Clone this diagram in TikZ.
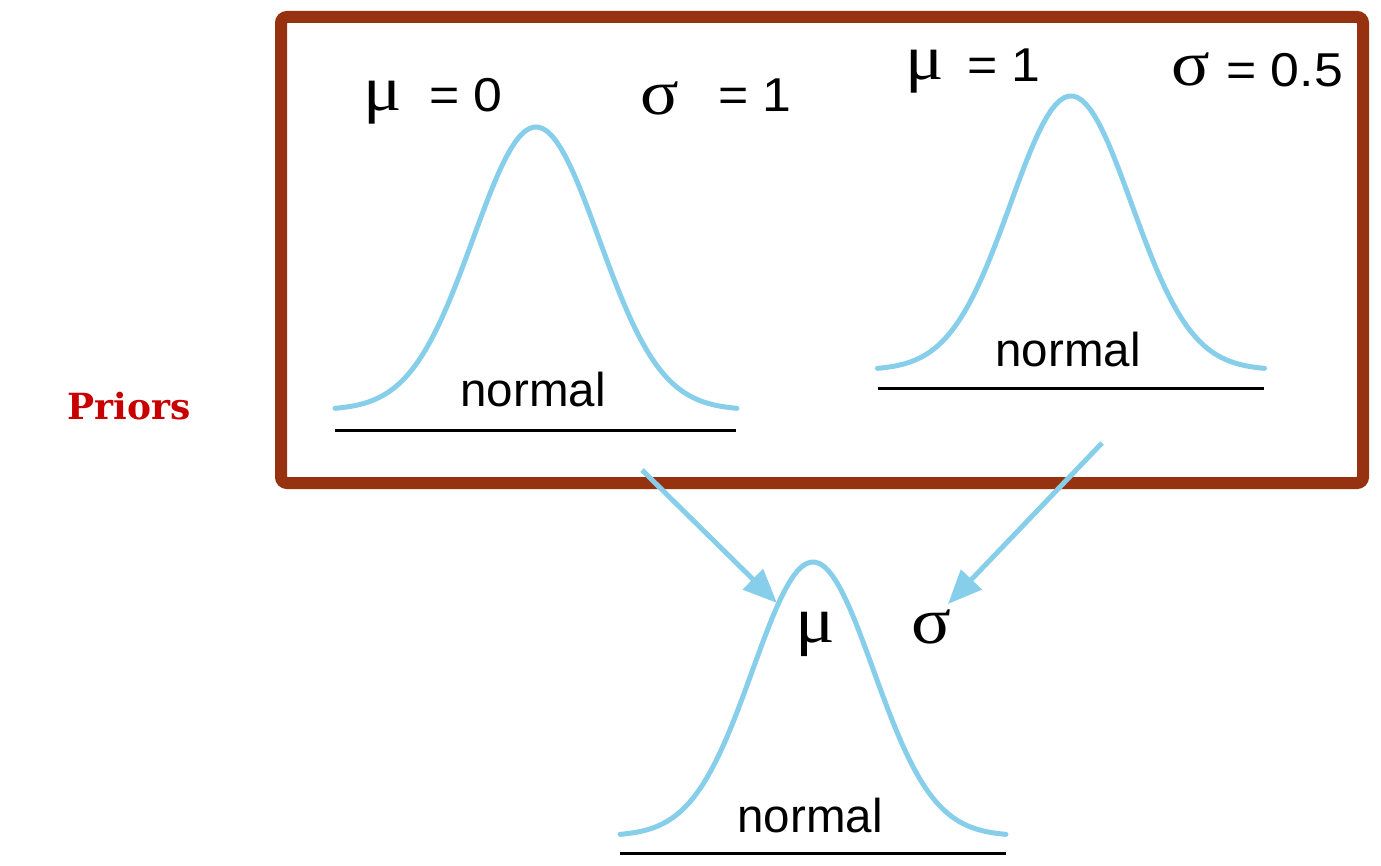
\documentclass[tikz,border=0pt]{standalone}
\usepackage{fontspec}
\setmainfont{Liberation Sans}
\newfontfamily\eqf{Liberation Sans}[FakeStretch=1.09]
\newfontfamily\greekf{Liberation Serif}[FakeStretch=1.12]
\newfontfamily\slabf{DejaVu Serif}
\usetikzlibrary{arrows.meta}
\definecolor{boxc}{RGB}{150,50,15}
\definecolor{curvec}{RGB}{135,206,235}
\definecolor{priorc}{RGB}{200,0,0}
\tikzset{
  px/.style={x=0.5pt,y=-0.5pt},
  frame/.style={draw=boxc,line width=6pt,rounded corners=3pt},
  bell/.style={draw=curvec,line width=2.5pt,line cap=round},
  baseln/.style={draw=black,line width=1.5pt},
  lbl/.style={inner sep=0pt,font=\fontsize{23.75pt}{28pt}\selectfont},
  eqlbl/.style={inner sep=0pt,font=\fontsize{23.75pt}{28pt}\selectfont\eqf},
  grk/.style={inner sep=0pt,font=\fontsize{32pt}{36pt}\selectfont\greekf},
  grkb/.style={inner sep=0pt,font=\fontsize{33pt}{38pt}\selectfont\greekf},
  arr/.style={draw=curvec,line width=2.5pt,-{Triangle[length=17pt,width=14pt]}},
}
\begin{document}
\begin{tikzpicture}[px]
\path[use as bounding box] (0,0) rectangle (1381,866);
% frame
\coordinate (boxnw) at (281,17); \coordinate (boxse) at (1363,483);
\draw[frame] (boxnw) rectangle (boxse);
% curves
\draw[bell] plot[domain=-3.2:3.2,samples=90] ({536+62.8*\x},{410-283*exp(-\x*\x/2)});
\draw[bell] plot[domain=-3.2:3.2,samples=90] ({1071+60.5*\x},{370-274*exp(-\x*\x/2)});
\draw[bell] plot[domain=-3.2:3.2,samples=90] ({813+60.3*\x},{836-274*exp(-\x*\x/2)});
% baselines
\coordinate (b1l) at (335,430); \coordinate (b1r) at (736,430);
\coordinate (b2l) at (878,388); \coordinate (b2r) at (1264,388);
\coordinate (b3l) at (620,853); \coordinate (b3r) at (1006,853);
\draw[baseln] (b1l) -- (b1r);
\draw[baseln] (b2l) -- (b2r);
\draw[baseln] (b3l) -- (b3r);
% labels
\node[lbl,anchor=base] (n1) at (533,406) {normal};
\node[lbl,anchor=base] (n2) at (1068,366) {normal};
\node[lbl,anchor=base] (n3) at (810,832) {normal};
% top parameters
\node[grk,anchor=base west] (mu0) at (363,111) {μ};
\node[eqlbl,anchor=base west] (eq0) at (429,112) {= 0};
\node[grk,anchor=base west] (s1) at (640,115) {σ};
\node[eqlbl,anchor=base west] (eq1) at (718,112) {= 1};
\node[grk,anchor=base west] (mu1) at (905,80) {μ};
\node[eqlbl,anchor=base west] (eq2) at (967,82) {= 1};
\node[grk,anchor=base west] (s2) at (1171,86) {σ};
\node[eqlbl,anchor=base west] (eq3) at (1226,87) {= 0.5};
% bottom parameters
\node[grkb,anchor=base west] (mub) at (795,642) {μ};
\node[grkb,anchor=base west] (sb) at (911,643) {σ};
% priors
\node[inner sep=0pt,anchor=base west,text=priorc,font=\fontsize{18pt}{22pt}\selectfont\slabf\bfseries] (pri) at (67,419) {Priors};
% arrows
\coordinate (a1s) at (642,470); \coordinate (a1e) at (777,603);
\coordinate (a2s) at (1102,443); \coordinate (a2e) at (948,604);
\draw[arr] (a1s) -- (a1e);
\draw[arr] (a2s) -- (a2e);
\end{tikzpicture}
\end{document}
